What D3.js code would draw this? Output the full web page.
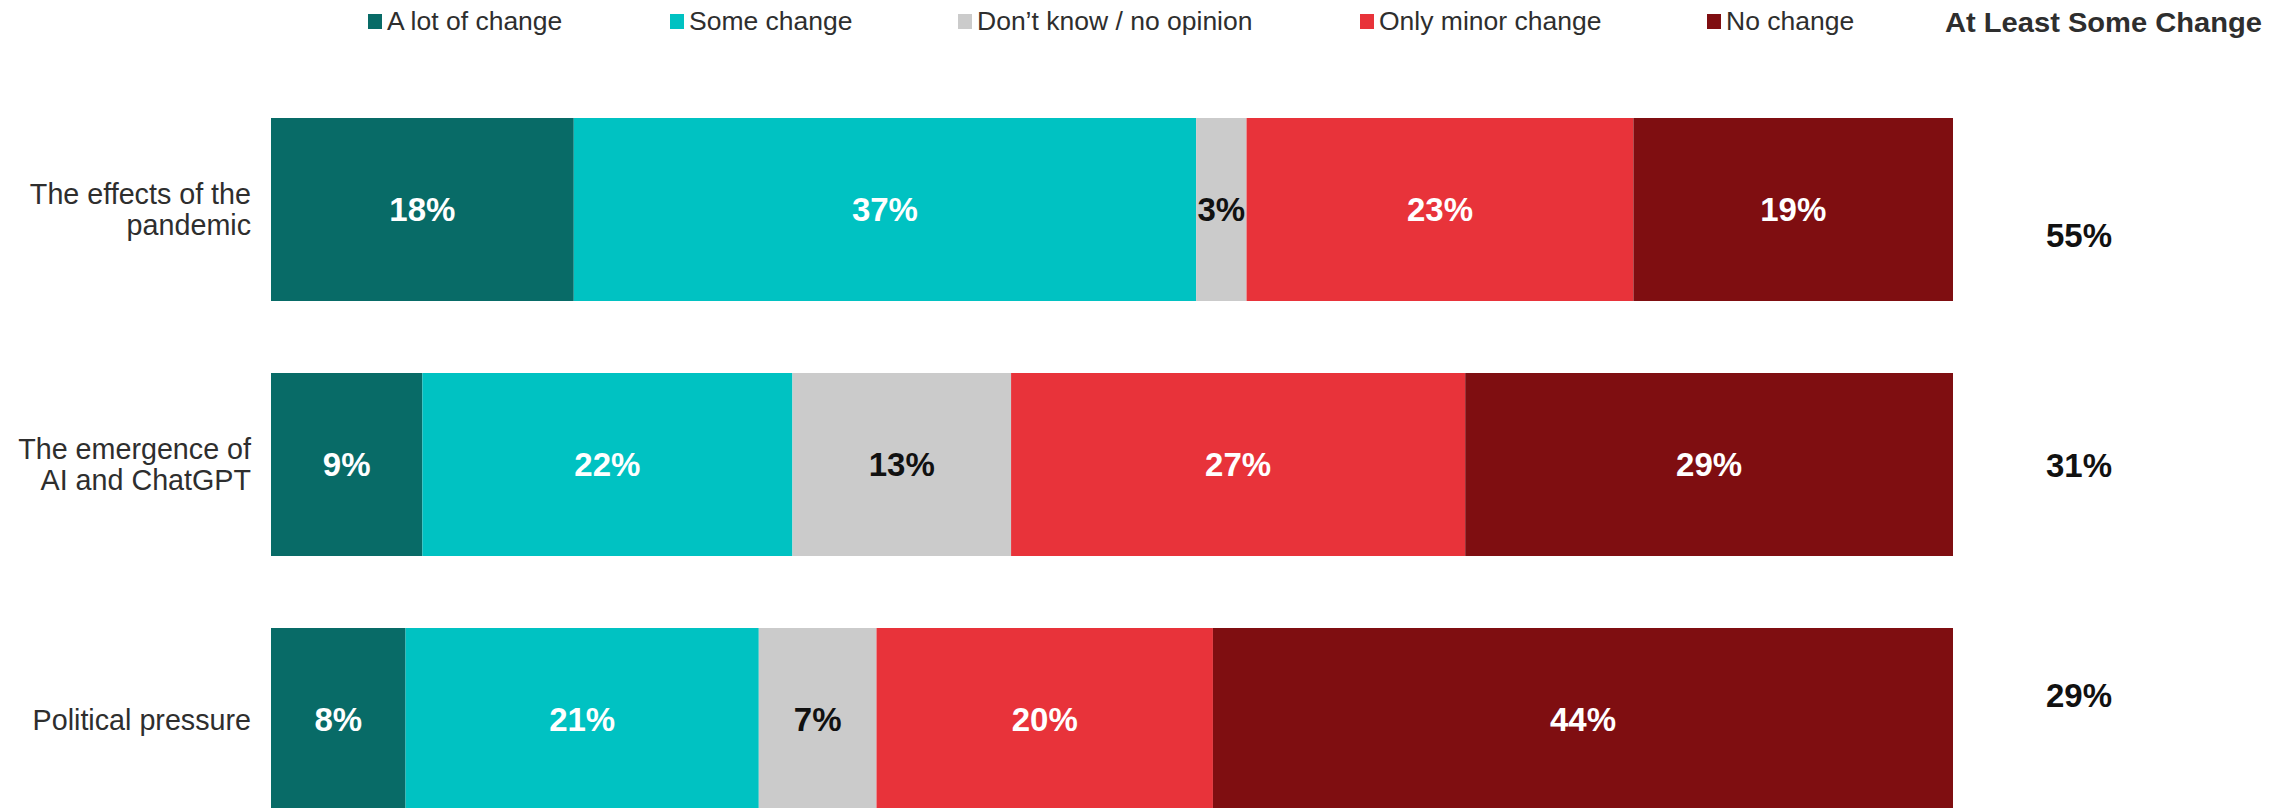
<!DOCTYPE html>
<html>
<head>
<meta charset="utf-8">
<script src="https://cdn.jsdelivr.net/npm/d3@7"></script>
<style>
  html, body { margin: 0; padding: 0; background: #fff; }
  svg { display: block; font-family: "Liberation Sans", Arial, Helvetica, sans-serif; }
</style>
</head>
<body>
<svg id="chart" width="2284" height="808"></svg>
<script>
// ---- data ----
const categories = ["The effects of the pandemic", "The emergence of AI and ChatGPT", "Political pressure"];
const categoryLines = [["The effects of the", "pandemic"], ["The emergence of", "AI and ChatGPT"], ["Political pressure"]];
const seriesNames = ["A lot of change", "Some change", "Don\u2019t know / no opinion", "Only minor change", "No change"];
const aLotOfChange = [18, 9, 8];
const someChange = [37, 22, 21];
const dontKnow = [3, 13, 7];
const onlyMinorChange = [23, 27, 20];
const noChange = [19, 29, 44];
const atLeastSomeChange = [55, 31, 29];
const summaryTitle = "At Least Some Change";

// ---- styles ----
const colors = ["#086B67", "#00C2C2", "#CBCBCB", "#E8333A", "#7F0E11"];
const labelColors = ["#fff", "#fff", "#111", "#fff", "#fff"];

const seriesValues = [aLotOfChange, someChange, dontKnow, onlyMinorChange, noChange];
const rows = categories.map((c, i) => {
  const r = { category: c };
  seriesNames.forEach((s, j) => r[s] = seriesValues[j][i]);
  return r;
});

const svg = d3.select("#chart");

const x = d3.scaleLinear().domain([0, 100]).range([271, 1953]);
const y = d3.scaleBand().domain(categories).range([118, 811]).paddingInner(0.2824).paddingOuter(0);
const ySummary = d3.scalePoint().domain(categories).range([235, 695]);

const stack = d3.stack().keys(seriesNames);
const stacked = stack(rows);

const groups = svg.append("g").selectAll("g")
  .data(stacked).join("g")
  .attr("fill", (d, i) => colors[i]);

groups.selectAll("rect")
  .data(d => d.map(v => ({ v, key: d.key })))
  .join("rect")
  .attr("x", d => x(d.v[0]))
  .attr("y", d => y(d.v.data.category))
  .attr("width", d => x(d.v[1]) - x(d.v[0]))
  .attr("height", y.bandwidth());

// value labels
stacked.forEach((s, si) => {
  svg.append("g").selectAll("text")
    .data(s).join("text")
    .attr("x", d => (x(d[0]) + x(d[1])) / 2)
    .attr("y", d => y(d.data.category) + y.bandwidth() / 2)
    .attr("dy", "0.35em")
    .attr("text-anchor", "middle")
    .attr("font-size", 33)
    .attr("font-weight", "bold")
    .attr("fill", labelColors[si])
    .text(d => (d[1] - d[0]) + "%");
});

// category labels
const catG = svg.append("g");
categories.forEach((c, i) => {
  const lines = categoryLines[i];
  const lh = 31.6;
  const cy = y(c) + y.bandwidth() / 2;
  const t = catG.append("text")
    .attr("text-anchor", "end")
    .attr("font-size", 28.7)
    .attr("fill", "#2e2e2e");
  lines.forEach((l, k) => {
    t.append("tspan")
      .attr("x", 251)
      .attr("y", cy + (k - (lines.length - 1) / 2) * lh)
      .attr("dy", "0.35em")
      .text(l);
  });
});

// summary column
svg.append("text")
  .attr("x", 1945)
  .attr("y", 32)
  .attr("font-size", 27.5)
  .attr("font-weight", "bold")
  .attr("fill", "#2e2e2e")
  .attr("textLength", 317)
  .attr("lengthAdjust", "spacingAndGlyphs")
  .text(summaryTitle);

svg.append("g").selectAll("text")
  .data(categories).join("text")
  .attr("x", 2079)
  .attr("y", d => ySummary(d))
  .attr("dy", "0.35em")
  .attr("text-anchor", "middle")
  .attr("font-size", 33)
  .attr("font-weight", "bold")
  .attr("fill", "#111")
  .text((d, i) => atLeastSomeChange[i] + "%");

// legend
const legendX = d3.scaleOrdinal().domain(seriesNames).range([368, 670, 958, 1360, 1707]);
const leg = svg.append("g").selectAll("g")
  .data(seriesNames).join("g")
  .attr("transform", d => `translate(${legendX(d)},0)`);
leg.append("rect")
  .attr("x", 0).attr("y", 14)
  .attr("width", 14).attr("height", 15)
  .attr("fill", (d, i) => colors[i]);
leg.append("text")
  .attr("x", 19).attr("y", 29.5)
  .attr("font-size", 26.5)
  .attr("fill", "#2e2e2e")
  .text(d => d);
</script>
</body>
</html>
